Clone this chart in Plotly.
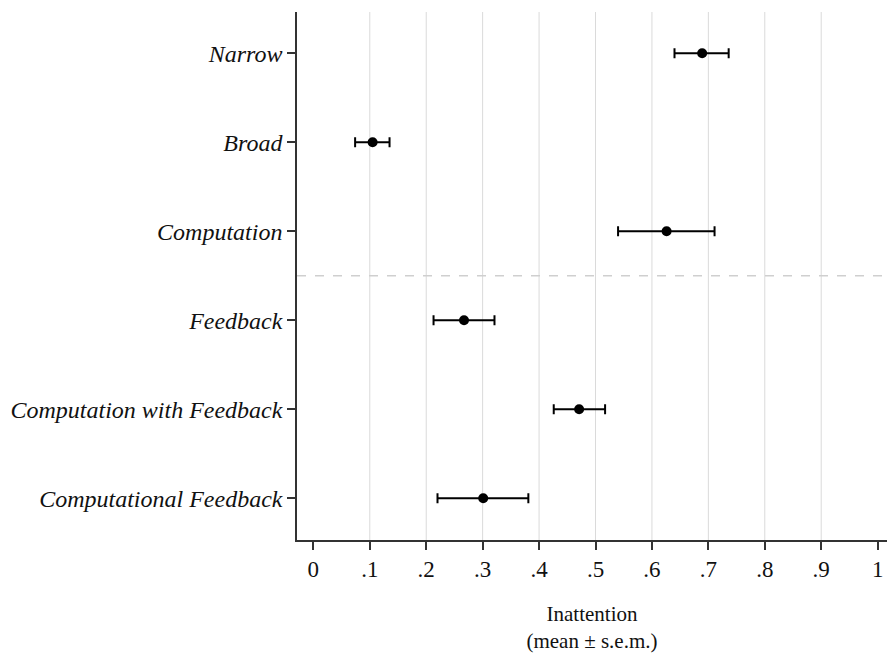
import plotly.graph_objects as go

categories = ["Narrow", "Broad", "Computation", "Feedback",
              "Computation with Feedback", "Computational Feedback"]
means = [0.689, 0.105, 0.626, 0.267, 0.471, 0.301]
lower = [0.640, 0.074, 0.540, 0.213, 0.426, 0.220]
upper = [0.736, 0.135, 0.711, 0.321, 0.517, 0.381]
x_tickvals = [0, 0.1, 0.2, 0.3, 0.4, 0.5, 0.6, 0.7, 0.8, 0.9, 1.0]
x_ticktext = ["0", ".1", ".2", ".3", ".4", ".5", ".6", ".7", ".8", ".9", "1"]
grid_vals = [0.1, 0.2, 0.3, 0.4, 0.5, 0.6, 0.7, 0.8, 0.9]
separator_y = 2.5

ypos = list(range(len(categories)))
err_plus = [u - m for u, m in zip(upper, means)]
err_minus = [m - l for m, l in zip(means, lower)]

FONT = "Liberation Serif"

fig = go.Figure()
for g in grid_vals:
    fig.add_shape(type="line", x0=g, x1=g, y0=0, y1=1, xref="x", yref="paper",
                  line=dict(color="#dadada", width=1), layer="below")
fig.add_shape(type="line", x0=0, x1=1, y0=separator_y, y1=separator_y,
              xref="paper", yref="y",
              line=dict(color="#cfcfcf", width=1.5, dash="dash"), layer="below")

fig.add_trace(go.Scatter(
    x=means, y=ypos, mode="markers",
    marker=dict(color="black", size=10),
    error_x=dict(type="data", symmetric=False, array=err_plus, arrayminus=err_minus,
                 color="black", thickness=2, width=5),
    showlegend=False,
))

fig.update_layout(
    width=887, height=654,
    margin=dict(l=297, r=0, t=12, b=114, autoexpand=False),
    paper_bgcolor="white", plot_bgcolor="white",
    font=dict(family=FONT, size=21, color="#111111"),
)
fig.update_xaxes(
    range=[-0.029, 1.0166], tickvals=x_tickvals, ticktext=x_ticktext,
    automargin=False,
    showgrid=False, zeroline=False, showline=True, linecolor="#333333", linewidth=1.5,
    ticks="outside", ticklen=8, tickwidth=1.5, tickcolor="#333333",
    tickfont=dict(family=FONT, size=23, color="#111111"),
    title=dict(text="Inattention<br>(mean ± s.e.m.)", standoff=25,
               font=dict(family=FONT, size=21, color="#111111")),
)
fig.update_yaxes(
    range=[5.469, -0.464], tickvals=ypos,
    ticktext=["<i>%s</i>" % c for c in categories],
    automargin=False,
    showgrid=False, zeroline=False, showline=True, linecolor="#333333", linewidth=1.5,
    ticks="outside", ticklen=8, tickwidth=1.5, tickcolor="#333333",
    tickfont=dict(family=FONT, size=24, color="#111111"),
)

fig.write_html("out.html", config={"displayModeBar": False},
               post_script="document.body.style.margin='0';")
